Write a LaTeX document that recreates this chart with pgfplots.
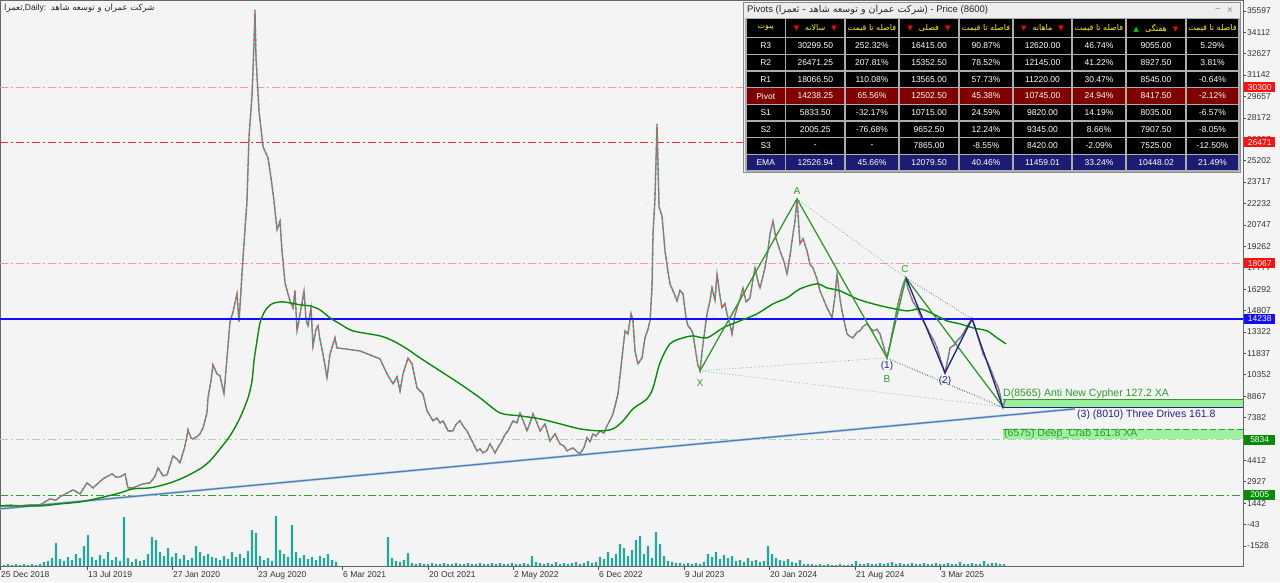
\documentclass[border=0pt]{standalone}
\usepackage{pgfplots}
\usepackage{pgfplotstable}
\pgfplotsset{compat=1.18}
\usepackage{fontspec}
\setmainfont{Liberation Sans}
\newfontfamily\fa[Script=Arabic]{DejaVu Sans}
\newfontfamily\dv{DejaVu Sans}
\TeXXeTstate=1
\definecolor{bg}{HTML}{F4F4F4}
\definecolor{candleR}{HTML}{EF5350}
\definecolor{candleG}{HTML}{26A69A}
\definecolor{ma}{HTML}{0A8A0A}
\definecolor{pat}{HTML}{2E9A2E}
\definecolor{nav}{HTML}{22228C}
\definecolor{trend}{HTML}{4A7FB8}
\definecolor{pivred}{HTML}{800000}
\definecolor{emab}{HTML}{1C1C72}
\definecolor{lred}{HTML}{F29A9A}
\definecolor{sred}{HTML}{E83030}
\definecolor{lgrn}{HTML}{A8D8A8}
\definecolor{sgrn}{HTML}{2CA02C}
\definecolor{boxg}{HTML}{98F098}
\definecolor{pblue}{HTML}{1010FF}
\definecolor{lblred}{HTML}{FF1010}
\newcommand\sm{\fontsize{8.5}{10}\selectfont}
\newcommand\trow[2]{\foreach \v [count=\i] in {#2}{\pgfmathsetmacro\cx{{765.75,815.25,872,929,986,1042.5,1099,1156,1212.5}[\i-1]}\node[font=\sm,text=white,inner sep=0pt] at (\cx,#1) {\v};}}
\begin{document}
\pgfplotstableread{
x p
0 1249
10 1300
20 1250
30 1320
40 1318
50 1735
56 1650
60 1874
66 2100
73 2359
80 2082
87 2845
93 2498
103 3123
112 3470
116 3250
120 3261
125 3470
128 2498
133 2498
143 2776
150 2845
155 3300
158 3886
163 3331
167 3400
173 4719
177 4500
180 4233
185 5412
188 6523
191 5950
193 5898
197 6050
200 6245
203 6661
207 7702
208 8743
211 9923
213 11033
217 10400
220 10270
224 9021
230 14017
233 14711
237 15960
239 14017
243 18458
247 22413
249 26854
252 29699
254 33307
255 35666
256 32336
259 28658
263 26160
268 25397
271 24009
274 22413
277 20401
280 21000
282 18943
285 16723
290 15474
293 14988
295 16200
297 13392
300 14500
304 16168
306 14200
308 13739
311 15000
313 12351
316 13500
318 13739
320 12800
323 11796
327 10131
330 11796
335 12907
337 12213
360 12000
380 11449
387 10409
393 9715
397 10200
400 9229
403 10409
408 11500
412 11102
417 9437
423 9021
427 7841
430 7500
433 7147
437 7355
440 7000
443 7147
448 6453
453 6453
456 6900
460 7147
464 6700
467 6453
472 5759
477 5065
480 5200
483 4927
487 5100
490 5551
495 4927
498 5300
502 5759
505 6200
508 6453
513 7147
517 7000
520 7702
524 7000
527 6453
530 7000
533 7633
537 7000
540 6453
545 6939
550 5759
555 6245
560 5551
564 5400
567 5065
573 5274
577 5000
580 4857
584 5300
587 5968
590 5700
593 6245
596 6100
600 6453
604 6300
607 6800
610 7200
613 7633
618 9021
622 11519
625 13392
628 13184
631 14600
633 14086
635 12004
638 11102
642 11519
645 12907
648 13500
650 14086
652 16376
653 20123
655 22621
657 27756
659 22000
662 21372
665 18943
668 17500
670 16654
674 16000
677 15474
680 16200
683 15960
686 14300
688 13739
691 13500
693 13184
696 11800
698 11000
700 10617
703 12500
707 14572
710 15500
712 16376
715 15500
717 17348
720 15800
722 14988
725 15300
727 14572
730 13800
732 13184
735 14500
737 14988
740 15600
743 16376
746 15400
750 15682
753 17000
755 17764
758 16800
760 16376
763 17200
765 17764
768 19000
770 20123
773 21025
776 19800
780 18943
784 18200
787 17348
790 18600
793 20123
795 21000
797 22552
800 19429
803 19800
807 18943
810 18000
813 17764
817 17000
820 16168
824 15500
827 14988
830 14600
832 14294
835 15800
837 17348
840 15600
842 14780
845 13800
847 13184
850 13000
853 12907
857 13300
860 13392
863 13700
867 13878
870 13600
873 13392
877 13500
880 13184
884 12200
887 11519
890 12400
892 13184
895 14200
897 14988
900 15800
902 16376
904 16800
906 17070
908 16300
910 15960
913 15400
917 14988
920 14500
923 14086
927 13600
930 13184
934 12700
937 12213
941 11300
945 10478
948 11500
950 12213
954 12400
957 12698
960 12900
963 13184
967 13700
972 14225
975 13700
977 13184
980 12500
983 11796
987 11300
990 10825
993 10300
995 9923
998 9500
1000 9021
1002 8300
1003 8050
1005 8600
}\pricedata
\pgfplotstableread{
x m
0 1249
40 1249
60 1388
80 1526
100 1804
120 2151
133 2429
150 2498
167 2776
183 3193
200 3817
210 4372
220 5205
230 6107
240 7355
248 8743
252 9923
254 11311
257 12698
260 13947
265 14780
272 15266
283 15404
300 15197
310 15128
320 14849
330 14294
340 13878
353 13392
380 13045
393 12698
407 12143
420 11519
440 10617
460 9715
480 8743
500 7702
520 7494
540 7286
560 6939
580 6592
600 6453
613 6592
623 7147
633 7980
647 8674
653 9437
660 11172
670 12490
683 12907
693 13045
707 12907
723 13600
740 14086
757 14572
773 15266
787 15682
800 16307
817 16654
827 16376
840 16168
857 15613
873 15266
890 14988
907 14780
920 14919
933 14572
947 14086
960 13878
973 13600
987 13392
997 12907
1006 12490
}\madata
\pgfplotstableread{
x v
0 1
4 1
8 2
12 1
16 2
20 1
24 2
28 1
32 2
36 1
40 2
44 4
48 5
52 8
56 23
60 7
64 5
68 9
72 6
76 12
80 8
84 20
88 31
92 9
96 6
100 11
104 7
108 14
112 6
116 9
120 5
124 49
128 8
132 4
136 7
140 5
144 6
148 12
152 29
156 26
160 14
164 10
168 18
172 9
176 13
180 7
184 11
188 6
192 8
196 20
200 14
204 10
208 12
212 9
216 8
220 6
224 10
228 7
232 14
236 9
240 12
244 8
248 15
252 36
256 33
260 10
264 6
268 8
272 5
276 50
280 16
284 12
288 9
292 41
296 14
300 8
304 11
308 7
312 9
316 6
320 10
324 8
328 12
332 6
336 4
388 29
392 8
396 5
400 4
404 6
408 13
412 3
416 2
420 3
424 2
428 2
432 3
436 2
440 2
444 3
448 2
452 2
456 3
460 2
464 2
468 3
472 2
476 2
480 3
484 2
488 2
492 3
496 2
500 3
504 2
508 2
512 3
516 2
520 2
524 3
528 2
532 10
536 4
540 3
544 2
548 3
552 2
556 4
560 2
564 3
568 2
572 3
576 4
580 2
584 3
588 5
592 3
596 4
600 9
604 7
608 14
612 8
616 12
620 22
624 18
628 10
632 16
636 26
640 30
644 12
648 20
652 8
656 34
660 22
664 10
668 5
672 4
676 3
680 3
684 2
688 3
692 2
696 3
700 2
704 4
708 12
712 9
716 14
720 7
724 11
728 8
732 10
736 5
740 6
744 4
748 8
752 5
756 6
760 4
764 5
768 20
772 12
776 8
780 6
784 5
788 7
792 4
796 3
800 6
804 2
808 2
812 2
816 1
820 2
824 1
828 2
832 1
836 1
840 2
844 1
848 1
852 2
856 5
860 2
864 2
868 3
872 2
876 2
880 3
884 2
888 3
892 4
896 2
900 3
904 2
908 2
912 3
916 2
920 2
924 3
928 2
932 2
936 3
940 2
944 2
948 3
952 2
956 2
960 4
964 2
968 2
972 3
976 2
980 2
984 5
988 2
992 3
996 3
1000 2
1004 2
}\voldata
\begin{tikzpicture}[x=1pt,y=1pt]
\path[use as bounding box, fill=bg] (0,0) rectangle (1280,582);
% volume
\begin{axis}[at={(0,16)}, anchor=south west, scale only axis, width=1243pt, height=566pt,
  xmin=0, xmax=1243, ymin=0, ymax=566, hide axis]
\addplot[ybar, bar width=2.2pt, fill=candleG, draw=none] table[x=x,y=v] {\voldata};
\end{axis}
% main
\begin{axis}[at={(0,10.5)}, anchor=south west, scale only axis, width=1243pt, height=566pt,
  xmin=0, xmax=1243, ymin=-2984, ymax=36291,
  axis line style={draw=black!60, line width=0.8pt},
  tick style={draw=black!70, line width=0.6pt},
  tick align=outside, major tick length=3pt,
  xtick pos=bottom, ytick pos=right, yticklabel pos=right,
  ytick={35597,34112,32627,31142,29657,28172,26687,25202,23717,22232,20747,19262,17777,16292,14807,13322,11837,10352,8867,7382,5897,4412,2927,1442,-43,-1528},
  yticklabels={35597,34112,32627,31142,29657,28172,26687,25202,23717,22232,20747,19262,17777,16292,14807,13322,11837,10352,8867,7382,5897,4412,2927,1442,-43,-1528},
  xtick={0,87,172,257,342,428,513,598,684,769,855,940},
  xticklabels={25 Dec 2018,13 Jul 2019,27 Jan 2020,23 Aug 2020,6 Mar 2021,20 Oct 2021,2 May 2022,6 Dec 2022,9 Jul 2023,20 Jan 2024,21 Aug 2024,3 Mar 2025},
  yticklabel style={font=\sm, text=black!80, anchor=west, inner sep=1pt},
  xticklabel style={font=\sm, text=black!80, anchor=north west, inner sep=1pt, text height=6.5pt, text depth=1.5pt},
  clip=false]
% pivot lines
\addplot[draw=lred, line width=1pt, dash pattern=on 8pt off 3pt on 2pt off 3pt] coordinates {(0,30300) (1243,30300)};
\addplot[draw=sred, line width=0.8pt, dash pattern=on 8pt off 3pt on 2pt off 3pt] coordinates {(0,26471) (1243,26471)};
\addplot[draw=lred, line width=1pt, dash pattern=on 8pt off 3pt on 2pt off 3pt] coordinates {(0,18067) (1243,18067)};
\addplot[draw=lgrn, line width=1.3pt, dash pattern=on 8pt off 3pt on 2pt off 3pt] coordinates {(0,5834) (1243,5834)};
\addplot[draw=sgrn, line width=0.8pt, dash pattern=on 8pt off 3pt on 2pt off 3pt] coordinates {(0,2005) (1243,2005)};
% zones
\addplot[fill=boxg, draw=none, opacity=0.9] coordinates {(1003,6592) (1243,6592) (1243,5898) (1003,5898)} -- cycle;
\addplot[draw=sgrn, line width=0.6pt, dash pattern=on 6pt off 3pt] coordinates {(1003,6592) (1243,6592)};
\addplot[fill=boxg, draw=none] coordinates {(1003,8604) (1243,8604) (1243,8050) (1003,8050)} -- cycle;
\addplot[draw=pat, line width=0.8pt] coordinates {(1003,8604) (1243,8604)};
\addplot[draw=nav, line width=1pt] coordinates {(1003,8050) (1243,8050)};
% trend line
\addplot[draw=trend!40, line width=2.4pt] coordinates {(0,1041) (1075,7980)};
\addplot[draw=trend, line width=1.2pt] coordinates {(0,1041) (1075,7980)};
% price
\addplot[draw=candleG, line width=1.3pt] table[x=x,y=p] {\pricedata};
\addplot[draw=candleR, line width=1.3pt, dash pattern=on 2.5pt off 2.5pt] table[x=x,y=p] {\pricedata};
% pivot line
\addplot[draw=pblue, line width=1.8pt] coordinates {(0,14238) (1243,14238)};
% MA
\addplot[draw=ma, line width=1.4pt, smooth] table[x=x,y=m] {\madata};
% pattern dotted
\addplot[draw=pat!80, line width=0.7pt, dotted] coordinates {(797,22552) (906,17070)};
\addplot[draw=pat!70, line width=0.7pt, dotted] coordinates {(700,10617) (887,11519)};
\addplot[draw=pat!70, line width=0.7pt, dotted] coordinates {(700,10617) (1003,8119)};
\addplot[draw=pat!80, line width=0.7pt, dotted] coordinates {(887,11519) (1003,8119)};
\addplot[draw=nav!80, line width=0.7pt, dotted] coordinates {(906,17070) (972,14225)};
\addplot[draw=nav!80, line width=0.7pt, dotted] coordinates {(890,11400) (1003,8050)};
% XABCD
\addplot[draw=pat, line width=1.3pt] coordinates {(700,10617) (797,22552) (887,11519) (906,17070) (1003,8119)};
% three drives
\addplot[draw=nav, line width=1.3pt] coordinates {(906,17070) (945,10478) (972,14225) (1003,8050)};
% labels
\node[text=pat, font=\fontsize{10}{12}\selectfont] at (700,9740) {X};
\node[text=pat, font=\fontsize{10}{12}\selectfont] at (797,23100) {A};
\node[text=pat, font=\fontsize{10}{12}\selectfont] at (887,10050) {B};
\node[text=pat, font=\fontsize{10}{12}\selectfont] at (905,17680) {C};
\node[text=nav, font=\fontsize{10}{12}\selectfont] at (887,10980) {(1)};
\node[text=nav, font=\fontsize{10}{12}\selectfont] at (945,9930) {(2)};
\node[text=pat, font=\fontsize{10.5}{12}\selectfont, anchor=south west, inner sep=1pt] at (1002,8604) {D(8565) Anti New Cypher 127.2 XA};
\node[text=nav, font=\fontsize{10.5}{12}\selectfont, anchor=north west, inner sep=1pt] at (1076,8000) {(3) (8010) Three Drives 161.8};
\node[text=pat, font=\fontsize{10.5}{12}\selectfont, anchor=west, inner sep=1pt] at (1003,6245) {(6575) Deep\_Crab 161.8 XA};
% right labels
\node[fill=lblred, text=white, font=\sm, anchor=west, inner sep=0.5pt, minimum width=31pt, minimum height=10pt] at (1244,30300) {30300};
\node[fill=lblred, text=white, font=\sm, anchor=west, inner sep=0.5pt, minimum width=31pt, minimum height=10pt] at (1244,26471) {26471};
\node[fill=lblred, text=white, font=\sm, anchor=west, inner sep=0.5pt, minimum width=31pt, minimum height=10pt] at (1244,18067) {18067};
\node[fill=pblue, text=white, font=\sm, anchor=west, inner sep=0.5pt, minimum width=31pt, minimum height=10pt] at (1244,14238) {14238};
\node[fill=ma, text=white, font=\sm, anchor=west, inner sep=0.5pt, minimum width=31pt, minimum height=10pt] at (1244,5834) {5834};
\node[fill=ma, text=white, font=\sm, anchor=west, inner sep=0.5pt, minimum width=31pt, minimum height=10pt] at (1244,2005) {2005};
\end{axis}
\begin{scope}[shift={(0,582)}, y=-1pt]
% top-left caption
\node[anchor=west, font=\sm, text=black!85, inner sep=0pt] at (4,8) {{\fa\beginR ثعمرا\endR},Daily:\ \ {\fa\beginR شرکت عمران و توسعه شاهد\endR}};
% pivot table
\fill[black!7] (743,2) rectangle (1241,173);
\draw[black!45] (743.5,2.5) rectangle (1240.5,172.5);
\node[anchor=west, font=\fontsize{9.5}{11}\selectfont, text=black!85, inner sep=0pt] at (747,10) {Pivots ({\fa\beginR شرکت عمران و توسعه شاهد - ثعمرا\endR}) - Price (8600)};
\node[font=\sm, text=black!50, inner sep=0pt] at (1218,8) {\_};
\node[font=\dv\fontsize{8}{9}\selectfont, text=black!50, inner sep=0pt] at (1230,10) {×};
\fill[black] (746,18.3) rectangle (1239,171);
\fill[pivred] (746,87.7) rectangle (1239,104.3);
\fill[emab] (746,154.3) rectangle (1239,171);
\foreach \xx in {746,785.5,845,899,959,1013,1072,1126,1186,1239} \draw[gray!65, line width=1.5pt] (\xx,18.3) -- (\xx,171);
\foreach \yy in {18.3,37.7,54.3,71,87.7,104.3,121,137.7,154.3,171} \draw[gray!65, line width=1.5pt] (746,\yy) -- (1239,\yy);
% header
\def\tri#1#2{{\dv\fontsize{7}{8}\selectfont\textcolor{#1}{#2}}}
\node[text=yellow, font=\fa\fontsize{8}{10}\selectfont, inner sep=0pt] at (765.75,28) {\beginR پیوت\endR};
\node[text=yellow, font=\fa\fontsize{8}{10}\selectfont, inner sep=0pt] at (815.25,28) {\tri{red}{▼}\hspace{6pt}\beginR سالانه\endR\hspace{6pt}\tri{red}{▼}};
\node[text=yellow, font=\fa\fontsize{8}{10}\selectfont, inner sep=0pt] at (872,28) {\beginR فاصله تا قیمت\endR};
\node[text=yellow, font=\fa\fontsize{8}{10}\selectfont, inner sep=0pt] at (929,28) {\tri{red}{▼}\hspace{6pt}\beginR فصلی\endR\hspace{6pt}\tri{red}{▼}};
\node[text=yellow, font=\fa\fontsize{8}{10}\selectfont, inner sep=0pt] at (986,28) {\beginR فاصله تا قیمت\endR};
\node[text=yellow, font=\fa\fontsize{8}{10}\selectfont, inner sep=0pt] at (1042.5,28) {\tri{red}{▼}\hspace{6pt}\beginR ماهانه\endR\hspace{6pt}\tri{red}{▼}};
\node[text=yellow, font=\fa\fontsize{8}{10}\selectfont, inner sep=0pt] at (1099,28) {\beginR فاصله تا قیمت\endR};
\node[text=yellow, font=\fa\fontsize{8}{10}\selectfont, inner sep=0pt] at (1156,28) {\tri{green!80!black}{▲}\hspace{6pt}\beginR هفتگی\endR\hspace{6pt}\tri{red}{▼}};
\node[text=yellow, font=\fa\fontsize{8}{10}\selectfont, inner sep=0pt] at (1212.5,28) {\beginR فاصله تا قیمت\endR};
% rows
\trow{46}{R3,30299.50,252.32\%,16415.00,90.87\%,12620.00,46.74\%,9055.00,5.29\%}
\trow{62.65}{R2,26471.25,207.81\%,15352.50,78.52\%,12145.00,41.22\%,8927.50,3.81\%}
\trow{79.35}{R1,18066.50,110.08\%,13565.00,57.73\%,11220.00,30.47\%,8545.00,-0.64\%}
\trow{96}{Pivot,14238.25,65.56\%,12502.50,45.38\%,10745.00,24.94\%,8417.50,-2.12\%}
\trow{112.65}{S1,5833.50,-32.17\%,10715.00,24.59\%,9820.00,14.19\%,8035.00,-6.57\%}
\trow{129.35}{S2,2005.25,-76.68\%,9652.50,12.24\%,9345.00,8.66\%,7907.50,-8.05\%}
\trow{146}{S3,-,-,7865.00,-8.55\%,8420.00,-2.09\%,7525.00,-12.50\%}
\trow{162.65}{EMA,12526.94,45.66\%,12079.50,40.46\%,11459.01,33.24\%,10448.02,21.49\%}
\end{scope}
\end{tikzpicture}
\end{document}
